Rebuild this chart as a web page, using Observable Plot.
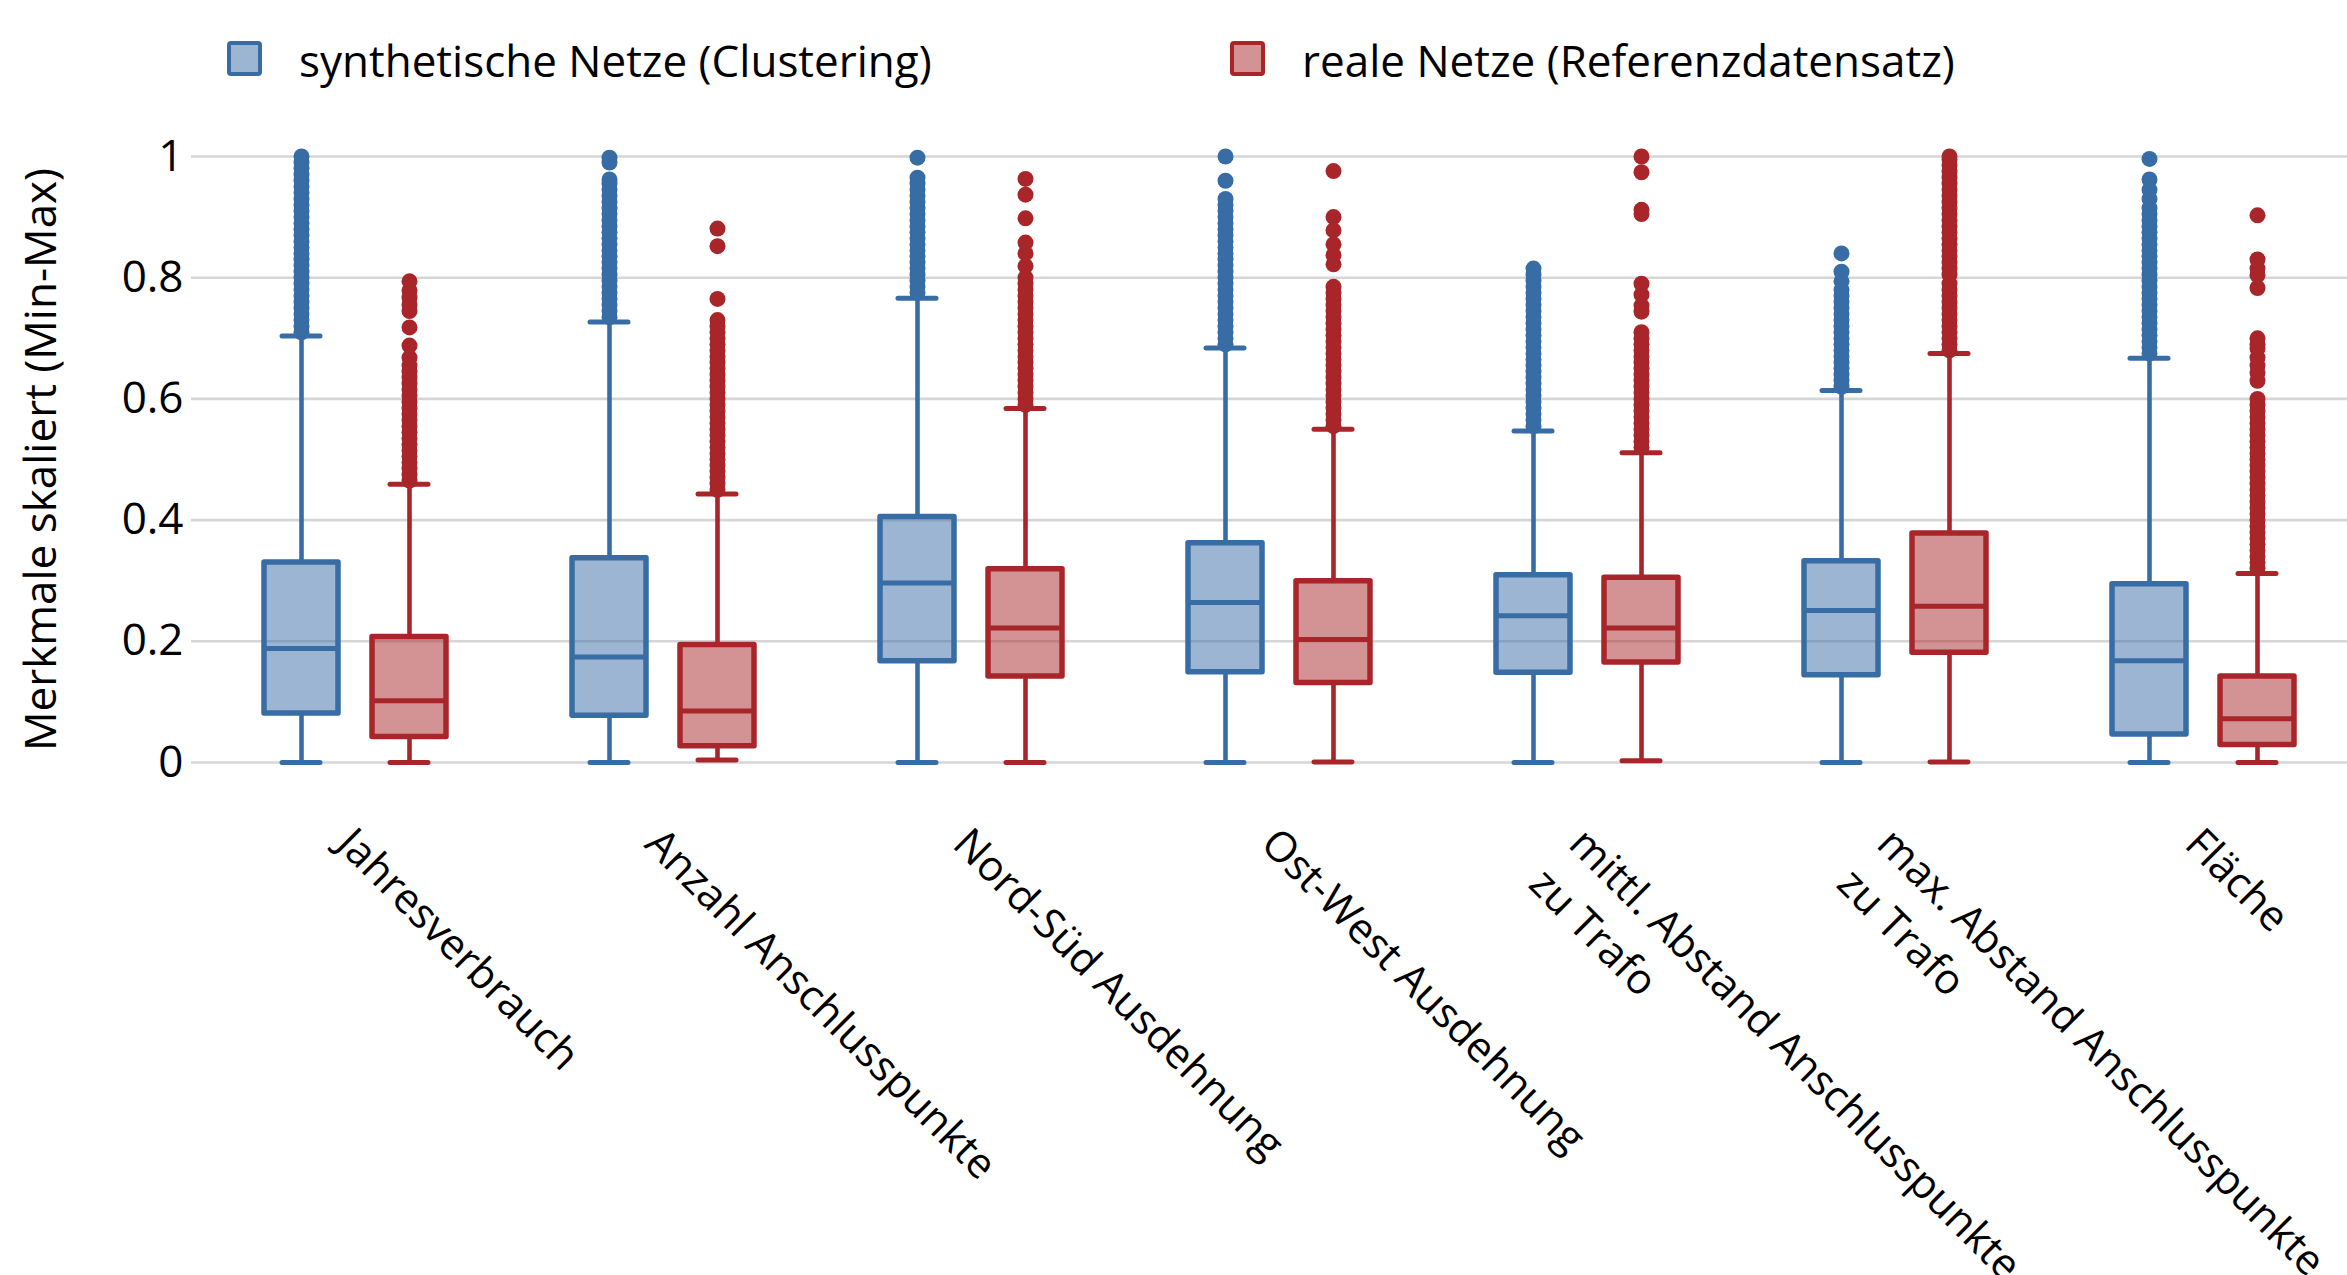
<!DOCTYPE html>
<html><head><meta charset="utf-8">
<script src="https://cdn.jsdelivr.net/npm/d3@7"></script>
<script src="https://cdn.jsdelivr.net/npm/@observablehq/plot@0.6"></script>
<style>
html,body{margin:0;padding:0;background:#fff;overflow:hidden}
body{width:2347px;height:1275px;font-family:"Open Sans",sans-serif;position:relative}
#legend{position:relative;height:110px;width:2347px}
.sw{position:absolute;top:41px;width:27px;height:27px;border:4.5px solid;border-radius:4px}
.lab{position:absolute;top:30px;font-size:44px;line-height:60px;white-space:nowrap;color:#000}
#chart svg{display:block}
</style></head><body>
<div id="legend"></div><div id="chart"></div>
<script>
const categories = ["Jahresverbrauch","Anzahl Anschlusspunkte","Nord-Süd Ausdehnung","Ost-West Ausdehnung","mittl. Abstand Anschlusspunkte\nzu Trafo","max. Abstand Anschlusspunkte\nzu Trafo","Fläche"];
const seriesNames = ["synthetische Netze (Clustering)","reale Netze (Referenzdatensatz)"];
const seriesColors = ["#386ca5","#a8262a"];
const yTicks = [0,0.2,0.4,0.6,0.8,1];
const yLabel = "Merkmale skaliert (Min-Max)";

// synthetic: lower whisker, q1, median, q3, upper whisker
const synLow  = [0,0,0,0,0,0,0];
const synQ1   = [0.081,0.077,0.167,0.149,0.148,0.144,0.046];
const synMed  = [0.188,0.174,0.296,0.264,0.242,0.251,0.168];
const synQ3   = [0.330,0.337,0.405,0.362,0.309,0.332,0.294];
const synHigh = [0.704,0.727,0.766,0.684,0.547,0.614,0.667];
// real
const realLow  = [0,0.004,0,0.001,0.003,0.001,0];
const realQ1   = [0.042,0.027,0.142,0.131,0.165,0.181,0.029];
const realMed  = [0.102,0.085,0.222,0.203,0.222,0.258,0.072];
const realQ3   = [0.207,0.194,0.319,0.299,0.305,0.378,0.142];
const realHigh = [0.459,0.443,0.584,0.550,0.511,0.675,0.312];

const synOut = [
 [0.71,0.72,0.73,0.74,0.75,0.76,0.77,0.78,0.79,0.80,0.81,0.82,0.83,0.84,0.85,0.86,0.87,0.88,0.89,0.90,0.91,0.92,0.93,0.94,0.95,0.96,0.97,0.98,0.99,1.0],
 [0.735,0.745,0.755,0.765,0.775,0.785,0.795,0.805,0.815,0.825,0.835,0.845,0.855,0.865,0.875,0.885,0.895,0.905,0.915,0.925,0.935,0.945,0.955,0.962,0.99,0.998],
 [0.775,0.785,0.795,0.805,0.815,0.825,0.835,0.845,0.855,0.865,0.875,0.885,0.895,0.905,0.915,0.925,0.935,0.945,0.955,0.965,0.998],
 [0.69,0.70,0.71,0.72,0.73,0.74,0.75,0.76,0.77,0.78,0.79,0.80,0.81,0.82,0.83,0.84,0.85,0.86,0.87,0.88,0.89,0.90,0.91,0.92,0.93,0.96,1.0],
 [0.555,0.565,0.575,0.585,0.595,0.605,0.615,0.625,0.635,0.645,0.655,0.665,0.675,0.685,0.695,0.705,0.715,0.725,0.735,0.745,0.755,0.765,0.775,0.785,0.795,0.805,0.815],
 [0.62,0.63,0.64,0.65,0.66,0.67,0.68,0.69,0.70,0.71,0.72,0.73,0.74,0.75,0.76,0.77,0.78,0.794,0.81,0.84],
 [0.675,0.685,0.695,0.705,0.715,0.725,0.735,0.745,0.755,0.765,0.775,0.785,0.795,0.805,0.815,0.825,0.835,0.845,0.855,0.865,0.875,0.885,0.895,0.905,0.915,0.93,0.945,0.962,0.996]
];
const realOut = [
 [0.465,0.475,0.485,0.495,0.505,0.515,0.525,0.535,0.545,0.555,0.565,0.575,0.585,0.595,0.605,0.615,0.625,0.635,0.645,0.655,0.668,0.688,0.718,0.745,0.755,0.767,0.779,0.794],
 [0.45,0.46,0.47,0.48,0.49,0.50,0.51,0.52,0.53,0.54,0.55,0.56,0.57,0.58,0.59,0.60,0.61,0.62,0.63,0.64,0.65,0.66,0.67,0.68,0.69,0.70,0.71,0.72,0.73,0.765,0.852,0.881],
 [0.59,0.60,0.61,0.62,0.63,0.64,0.65,0.66,0.67,0.68,0.69,0.70,0.71,0.72,0.73,0.74,0.75,0.76,0.77,0.78,0.79,0.80,0.819,0.84,0.858,0.898,0.937,0.963],
 [0.555,0.565,0.575,0.585,0.595,0.605,0.615,0.625,0.635,0.645,0.655,0.665,0.675,0.685,0.695,0.705,0.715,0.725,0.735,0.745,0.755,0.765,0.775,0.785,0.822,0.837,0.855,0.878,0.90,0.976],
 [0.52,0.53,0.54,0.55,0.56,0.57,0.58,0.59,0.60,0.61,0.62,0.63,0.64,0.65,0.66,0.67,0.68,0.69,0.70,0.71,0.744,0.754,0.772,0.79,0.905,0.912,0.974,1.0],
 [0.68,0.69,0.70,0.71,0.72,0.73,0.74,0.75,0.76,0.77,0.78,0.79,0.805,0.815,0.825,0.835,0.845,0.855,0.865,0.875,0.885,0.895,0.905,0.915,0.925,0.935,0.945,0.955,0.965,0.975,0.985,0.995,1.0],
 [0.32,0.33,0.34,0.35,0.36,0.37,0.38,0.39,0.40,0.41,0.42,0.43,0.44,0.45,0.46,0.47,0.48,0.49,0.50,0.51,0.52,0.53,0.54,0.55,0.56,0.57,0.58,0.59,0.60,0.63,0.643,0.655,0.668,0.683,0.69,0.70,0.783,0.804,0.815,0.83,0.903]
];

// legend (HTML, above the SVG)
const legend = document.getElementById("legend");
const legendPos = [[227,299],[1230,1302]];
seriesNames.forEach((name,i)=>{
  const sw = document.createElement("div");
  sw.className = "sw";
  sw.style.left = legendPos[i][0] + "px";
  sw.style.borderColor = seriesColors[i];
  sw.style.background = d3.color(seriesColors[i]).copy({opacity:0.5}).toString();
  legend.appendChild(sw);
  const lb = document.createElement("div");
  lb.className = "lab";
  lb.style.left = legendPos[i][1] + "px";
  lb.textContent = name;
  legend.appendChild(lb);
});

function statRows(low,q1,med,q3,high){
  return categories.map((c,i)=>({cat:c, low:low[i], q1:q1[i], med:med[i], q3:q3[i], high:high[i]}));
}
function outRows(out){
  return out.flatMap((vals,i)=>vals.map(v=>({cat:categories[i], v})));
}
const synRows = statRows(synLow,synQ1,synMed,synQ3,synHigh);
const realRows = statRows(realLow,realQ1,realMed,realQ3,realHigh);

function boxMarks(rows, outs, color, dx){
  return [
    Plot.ruleX(rows, {x:"cat", y1:"low", y2:"q1", stroke:color, strokeWidth:4.6, dx}),
    Plot.ruleX(rows, {x:"cat", y1:"q3", y2:"high", stroke:color, strokeWidth:4.6, dx}),
    Plot.tickY(rows, {x:"cat", y:"low", stroke:color, strokeWidth:5, strokeLinecap:"round", dx, insetLeft:135, insetRight:135}),
    Plot.tickY(rows, {x:"cat", y:"high", stroke:color, strokeWidth:5, strokeLinecap:"round", dx, insetLeft:135, insetRight:135}),
    Plot.dot(outRows(outs), {x:"cat", y:"v", r:8, fill:color, stroke:"none", dx}),
    Plot.barY(rows, {x:"cat", y1:"q1", y2:"q3", fill:color, fillOpacity:0.5, stroke:color, strokeWidth:5.5, strokeLinejoin:"round", dx, insetLeft:117, insetRight:117}),
    Plot.tickY(rows, {x:"cat", y:"med", stroke:color, strokeWidth:5, dx, insetLeft:117, insetRight:117})
  ];
}

const chart = Plot.plot({
  width: 2347,
  height: 1165,
  marginTop: 46,
  marginBottom: 513,
  marginLeft: 191,
  marginRight: 0,
  style: {fontFamily: "'Open Sans', sans-serif", fontSize: "44px", color: "#000", background: "#fff"},
  x: {domain: categories, range: [199, 2358], padding: 0, axis: null},
  y: {domain: [0,1], ticks: yTicks, tickFormat: d => String(d), tickSize: 0, tickPadding: 8, label: null},
  marks: [
    Plot.ruleY(yTicks, {stroke:"#d6d6d6", strokeWidth:2.6}),
    ...boxMarks(synRows, synOut, seriesColors[0], -54),
    ...boxMarks(realRows, realOut, seriesColors[1], 54),
    Plot.text(categories, {x: d => d, frameAnchor: "bottom", dx: 8, dy: 55, rotate: 45, textAnchor: "start", lineAnchor: "top", lineHeight: 1.35, fontSize: 42, fill: "#000"}),
    Plot.text([yLabel], {frameAnchor: "left", dx: -150, rotate: -90, textAnchor: "middle", lineAnchor: "middle", fontSize: 44, fill: "#000"})
  ]
});
document.getElementById("chart").appendChild(chart);
</script></body></html>
